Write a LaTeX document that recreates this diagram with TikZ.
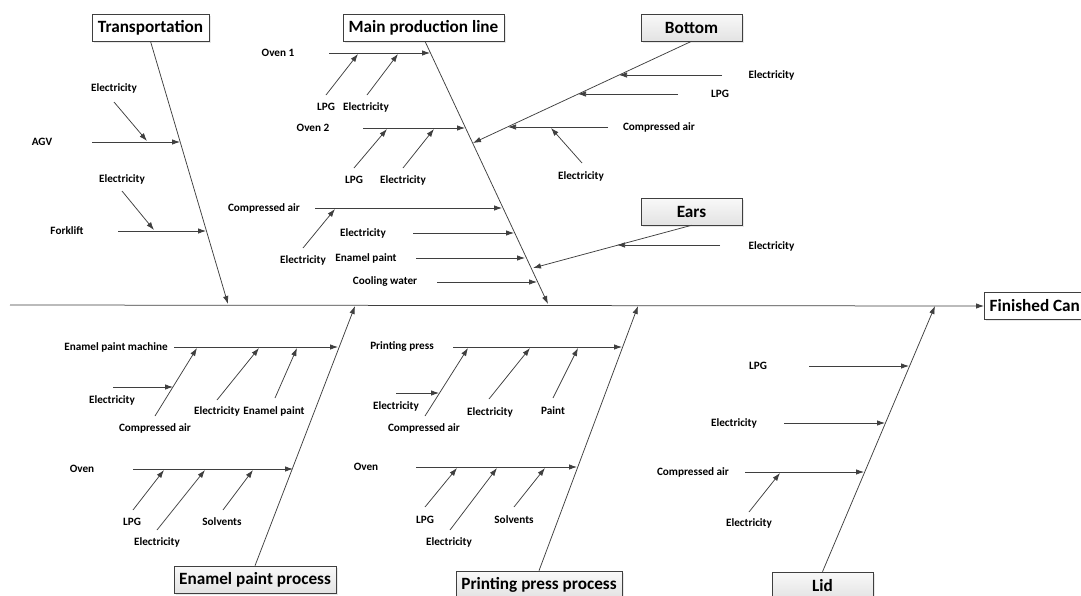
\documentclass[tikz,border=0pt]{standalone}
\usepackage{fontspec}
\setmainfont{Carlito}
\usetikzlibrary{arrows.meta, shadows}
\definecolor{bonecol}{HTML}{3F3F3F}

\begin{document}
\begin{tikzpicture}[x=1pt, y=-1pt,
    bone/.style={draw=bonecol, line width=0.75pt, -{Latex[length=8pt, width=5.5pt]}},
    lbl/.style={font=\bfseries\fontsize{11.2}{12}\selectfont, inner sep=0pt},
    cat/.style={draw=bonecol, line width=0.6pt, fill=white,
        drop shadow={shadow xshift=1.5pt, shadow yshift=-1.5pt, fill=gray!35},
        font=\bfseries\fontsize{17.2}{19}\selectfont, minimum height=27pt, inner sep=0pt},
    catg/.style={cat, top color=gray!5, bottom color=gray!22}]

\useasboundingbox (0,0) rectangle (1081,595);

% head and spine
\node[cat, anchor=west, minimum width=101pt] (can) at (984,306) {Finished Can};
\coordinate (spine) at (10,305);
\draw[bone] (spine) -- (can.west);

% Transportation
\node[cat, minimum width=117pt] (trans) at (150.5,27.5) {Transportation};
\coordinate (transEnd) at (228,304);
\draw[bone] (trans.south) -- (transEnd);
\node[lbl] (agv) at (42,142) {AGV};
\coordinate (agvA) at (92,142);  \coordinate (agvB) at (180,142);
\draw[bone] (agvA) -- (agvB);
\node[lbl] (agvEl) at (114,88) {Electricity};
\coordinate (agvElA) at (114,102);  \coordinate (agvElB) at (147,141);
\draw[bone] (agvElA) -- (agvElB);
\node[lbl] (fork) at (67,231) {Forklift};
\coordinate (forkA) at (118,231);  \coordinate (forkB) at (206,231);
\draw[bone] (forkA) -- (forkB);
\node[lbl] (forkEl) at (122,179) {Electricity};
\coordinate (forkElA) at (122,191);  \coordinate (forkElB) at (154,230);
\draw[bone] (forkElA) -- (forkElB);

% Main production line
\node[cat, minimum width=161pt] (main) at (423.5,27.5) {Main production line};
\coordinate (mainEnd) at (548,304);
\draw[bone] ([xshift=1.5pt]main.south) -- (mainEnd);
\node[lbl] (ovenA) at (278,53) {Oven 1};
\coordinate (ovenAa) at (329,53);  \coordinate (ovenAb) at (430,53);
\draw[bone] (ovenAa) -- (ovenAb);
\node[lbl] (ovenAlpg) at (326,107) {LPG};
\coordinate (ovenAlpgA) at (326,95);  \coordinate (ovenAlpgB) at (358,54);
\draw[bone] (ovenAlpgA) -- (ovenAlpgB);
\node[lbl] (ovenAel) at (366,107) {Electricity};
\coordinate (ovenAelA) at (367,95);  \coordinate (ovenAelB) at (398,54);
\draw[bone] (ovenAelA) -- (ovenAelB);
\node[lbl] (ovenB) at (313,128) {Oven 2};
\coordinate (ovenBa) at (363,128);  \coordinate (ovenBb) at (465,128);
\draw[bone] (ovenBa) -- (ovenBb);
\node[lbl] (ovenBlpg) at (354,180) {LPG};
\coordinate (ovenBlpgA) at (354,168);  \coordinate (ovenBlpgB) at (387,129);
\draw[bone] (ovenBlpgA) -- (ovenBlpgB);
\node[lbl] (ovenBel) at (403,180) {Electricity};
\coordinate (ovenBelA) at (403,168);  \coordinate (ovenBelB) at (434,129);
\draw[bone] (ovenBelA) -- (ovenBelB);
\node[lbl] (mainAir) at (264,208) {Compressed air};
\coordinate (mainAirA) at (315,208);  \coordinate (mainAirB) at (502,208);
\draw[bone] (mainAirA) -- (mainAirB);
\node[lbl] (mainAirEl) at (303,260) {Electricity};
\coordinate (mainAirElA) at (303,248);  \coordinate (mainAirElB) at (335,209);
\draw[bone] (mainAirElA) -- (mainAirElB);
\node[lbl] (mainEl) at (363,233) {Electricity};
\coordinate (mainElA) at (413,233);  \coordinate (mainElB) at (514,233);
\draw[bone] (mainElA) -- (mainElB);
\node[lbl] (mainPaint) at (366,258) {Enamel paint};
\coordinate (mainPaintA) at (416,258);  \coordinate (mainPaintB) at (525,258);
\draw[bone] (mainPaintA) -- (mainPaintB);
\node[lbl] (mainCool) at (385,282) {Cooling water};
\coordinate (mainCoolA) at (437,282);  \coordinate (mainCoolB) at (537,282);
\draw[bone] (mainCoolA) -- (mainCoolB);

% Bottom
\node[catg, minimum width=101pt] (bottom) at (691.5,27.5) {Bottom};
\coordinate (bottomEnd) at (473,143);
\draw[bone] (bottom.south) -- (bottomEnd);
\node[lbl] (botEl) at (771.5,75) {Electricity};
\coordinate (botElA) at (722,75);  \coordinate (botElB) at (619,75);
\draw[bone] (botElA) -- (botElB);
\node[lbl] (botLpg) at (720,94) {LPG};
\coordinate (botLpgA) at (678,94);  \coordinate (botLpgB) at (578,94);
\draw[bone] (botLpgA) -- (botLpgB);
\node[lbl] (botAir) at (659,127) {Compressed air};
\coordinate (botAirA) at (608,127);  \coordinate (botAirB) at (508,127);
\draw[bone] (botAirA) -- (botAirB);
\node[lbl] (botAirEl) at (581,176) {Electricity};
\coordinate (botAirElA) at (582,163);  \coordinate (botAirElB) at (551,128);
\draw[bone] (botAirElA) -- (botAirElB);

% Ears
\node[catg, minimum width=101pt] (ears) at (691.5,211.5) {Ears};
\coordinate (earsEnd) at (533,268);
\draw[bone] (ears.south) -- (earsEnd);
\node[lbl] (earsEl) at (771.5,246) {Electricity};
\coordinate (earsElA) at (720,245);  \coordinate (earsElB) at (617,245);
\draw[bone] (earsElA) -- (earsElB);

% Enamel paint process
\node[catg, minimum width=162pt] (enamel) at (255,579.5) {Enamel paint process};
\coordinate (enamelEnd) at (355,306);
\draw[bone] (enamel.north) -- (enamelEnd);
\node[lbl] (epm) at (116,347) {Enamel paint machine};
\coordinate (epmA) at (174,347);  \coordinate (epmB) at (338,347);
\draw[bone] (epmA) -- (epmB);
\node[lbl] (epmAir) at (155,428) {Compressed air};
\coordinate (epmAirA) at (155,416);  \coordinate (epmAirB) at (197,348);
\draw[bone] (epmAirA) -- (epmAirB);
\node[lbl] (epmAirEl) at (112,400) {Electricity};
\coordinate (epmAirElA) at (113,387);  \coordinate (epmAirElB) at (173,387);
\draw[bone] (epmAirElA) -- (epmAirElB);
\node[lbl] (epmEl) at (217,411) {Electricity};
\coordinate (epmElA) at (217,400);  \coordinate (epmElB) at (259,348);
\draw[bone] (epmElA) -- (epmElB);
\node[lbl] (epmPaint) at (274,411) {Enamel paint};
\coordinate (epmPaintA) at (275,398);  \coordinate (epmPaintB) at (297,348);
\draw[bone] (epmPaintA) -- (epmPaintB);
\node[lbl] (eOven) at (82,469) {Oven};
\coordinate (eOvenA) at (133,469);  \coordinate (eOvenB) at (293,469);
\draw[bone] (eOvenA) -- (eOvenB);
\node[lbl] (eOvenLpg) at (132,522) {LPG};
\coordinate (eOvenLpgA) at (133,510);  \coordinate (eOvenLpgB) at (164,470);
\draw[bone] (eOvenLpgA) -- (eOvenLpgB);
\node[lbl] (eOvenEl) at (157,542) {Electricity};
\coordinate (eOvenElA) at (157,530);  \coordinate (eOvenElB) at (205,470);
\draw[bone] (eOvenElA) -- (eOvenElB);
\node[lbl] (eOvenSol) at (222,522) {Solvents};
\coordinate (eOvenSolA) at (223,510);  \coordinate (eOvenSolB) at (253,470);
\draw[bone] (eOvenSolA) -- (eOvenSolB);

% Printing press process
\node[catg, minimum width=166pt] (print) at (539,584.5) {Printing press process};
\coordinate (printEnd) at (638,306);
\draw[bone] (print.north) -- (printEnd);
\node[lbl] (pp) at (402,347) {Printing press};
\coordinate (ppA) at (453,347);  \coordinate (ppB) at (622,347);
\draw[bone] (ppA) -- (ppB);
\node[lbl] (ppAir) at (424,428) {Compressed air};
\coordinate (ppAirA) at (425,416);  \coordinate (ppAirB) at (468,348);
\draw[bone] (ppAirA) -- (ppAirB);
\node[lbl] (ppAirEl) at (396,406) {Electricity};
\coordinate (ppAirElA) at (396,393);  \coordinate (ppAirElB) at (439,393);
\draw[bone] (ppAirElA) -- (ppAirElB);
\node[lbl] (ppEl) at (490,412) {Electricity};
\coordinate (ppElA) at (489,399);  \coordinate (ppElB) at (530,348);
\draw[bone] (ppElA) -- (ppElB);
\node[lbl] (ppPaint) at (553,411) {Paint};
\coordinate (ppPaintA) at (553,398);  \coordinate (ppPaintB) at (578,348);
\draw[bone] (ppPaintA) -- (ppPaintB);
\node[lbl] (pOven) at (366,467) {Oven};
\coordinate (pOvenA) at (416,467);  \coordinate (pOvenB) at (577,467);
\draw[bone] (pOvenA) -- (pOvenB);
\node[lbl] (pOvenLpg) at (425,520) {LPG};
\coordinate (pOvenLpgA) at (425,507);  \coordinate (pOvenLpgB) at (457,468);
\draw[bone] (pOvenLpgA) -- (pOvenLpgB);
\node[lbl] (pOvenEl) at (449,542) {Electricity};
\coordinate (pOvenElA) at (450,530);  \coordinate (pOvenElB) at (497,468);
\draw[bone] (pOvenElA) -- (pOvenElB);
\node[lbl] (pOvenSol) at (514,520) {Solvents};
\coordinate (pOvenSolA) at (514,507);  \coordinate (pOvenSolB) at (545,468);
\draw[bone] (pOvenSolA) -- (pOvenSolB);

% Lid
\node[catg, minimum width=101pt] (lid) at (822.5,585.5) {Lid};
\coordinate (lidEnd) at (935,306);
\draw[bone] (lid.north) -- (lidEnd);
\node[lbl] (lidLpg) at (758,366) {LPG};
\coordinate (lidLpgA) at (809,366);  \coordinate (lidLpgB) at (909,366);
\draw[bone] (lidLpgA) -- (lidLpgB);
\node[lbl] (lidEl) at (734,423) {Electricity};
\coordinate (lidElA) at (784,423);  \coordinate (lidElB) at (885,423);
\draw[bone] (lidElA) -- (lidElB);
\node[lbl] (lidAir) at (693,472) {Compressed air};
\coordinate (lidAirA) at (745,472);  \coordinate (lidAirB) at (864,472);
\draw[bone] (lidAirA) -- (lidAirB);
\node[lbl] (lidAirEl) at (749,523) {Electricity};
\coordinate (lidAirElA) at (749,512);  \coordinate (lidAirElB) at (780,473);
\draw[bone] (lidAirElA) -- (lidAirElB);
\end{tikzpicture}
\end{document}
